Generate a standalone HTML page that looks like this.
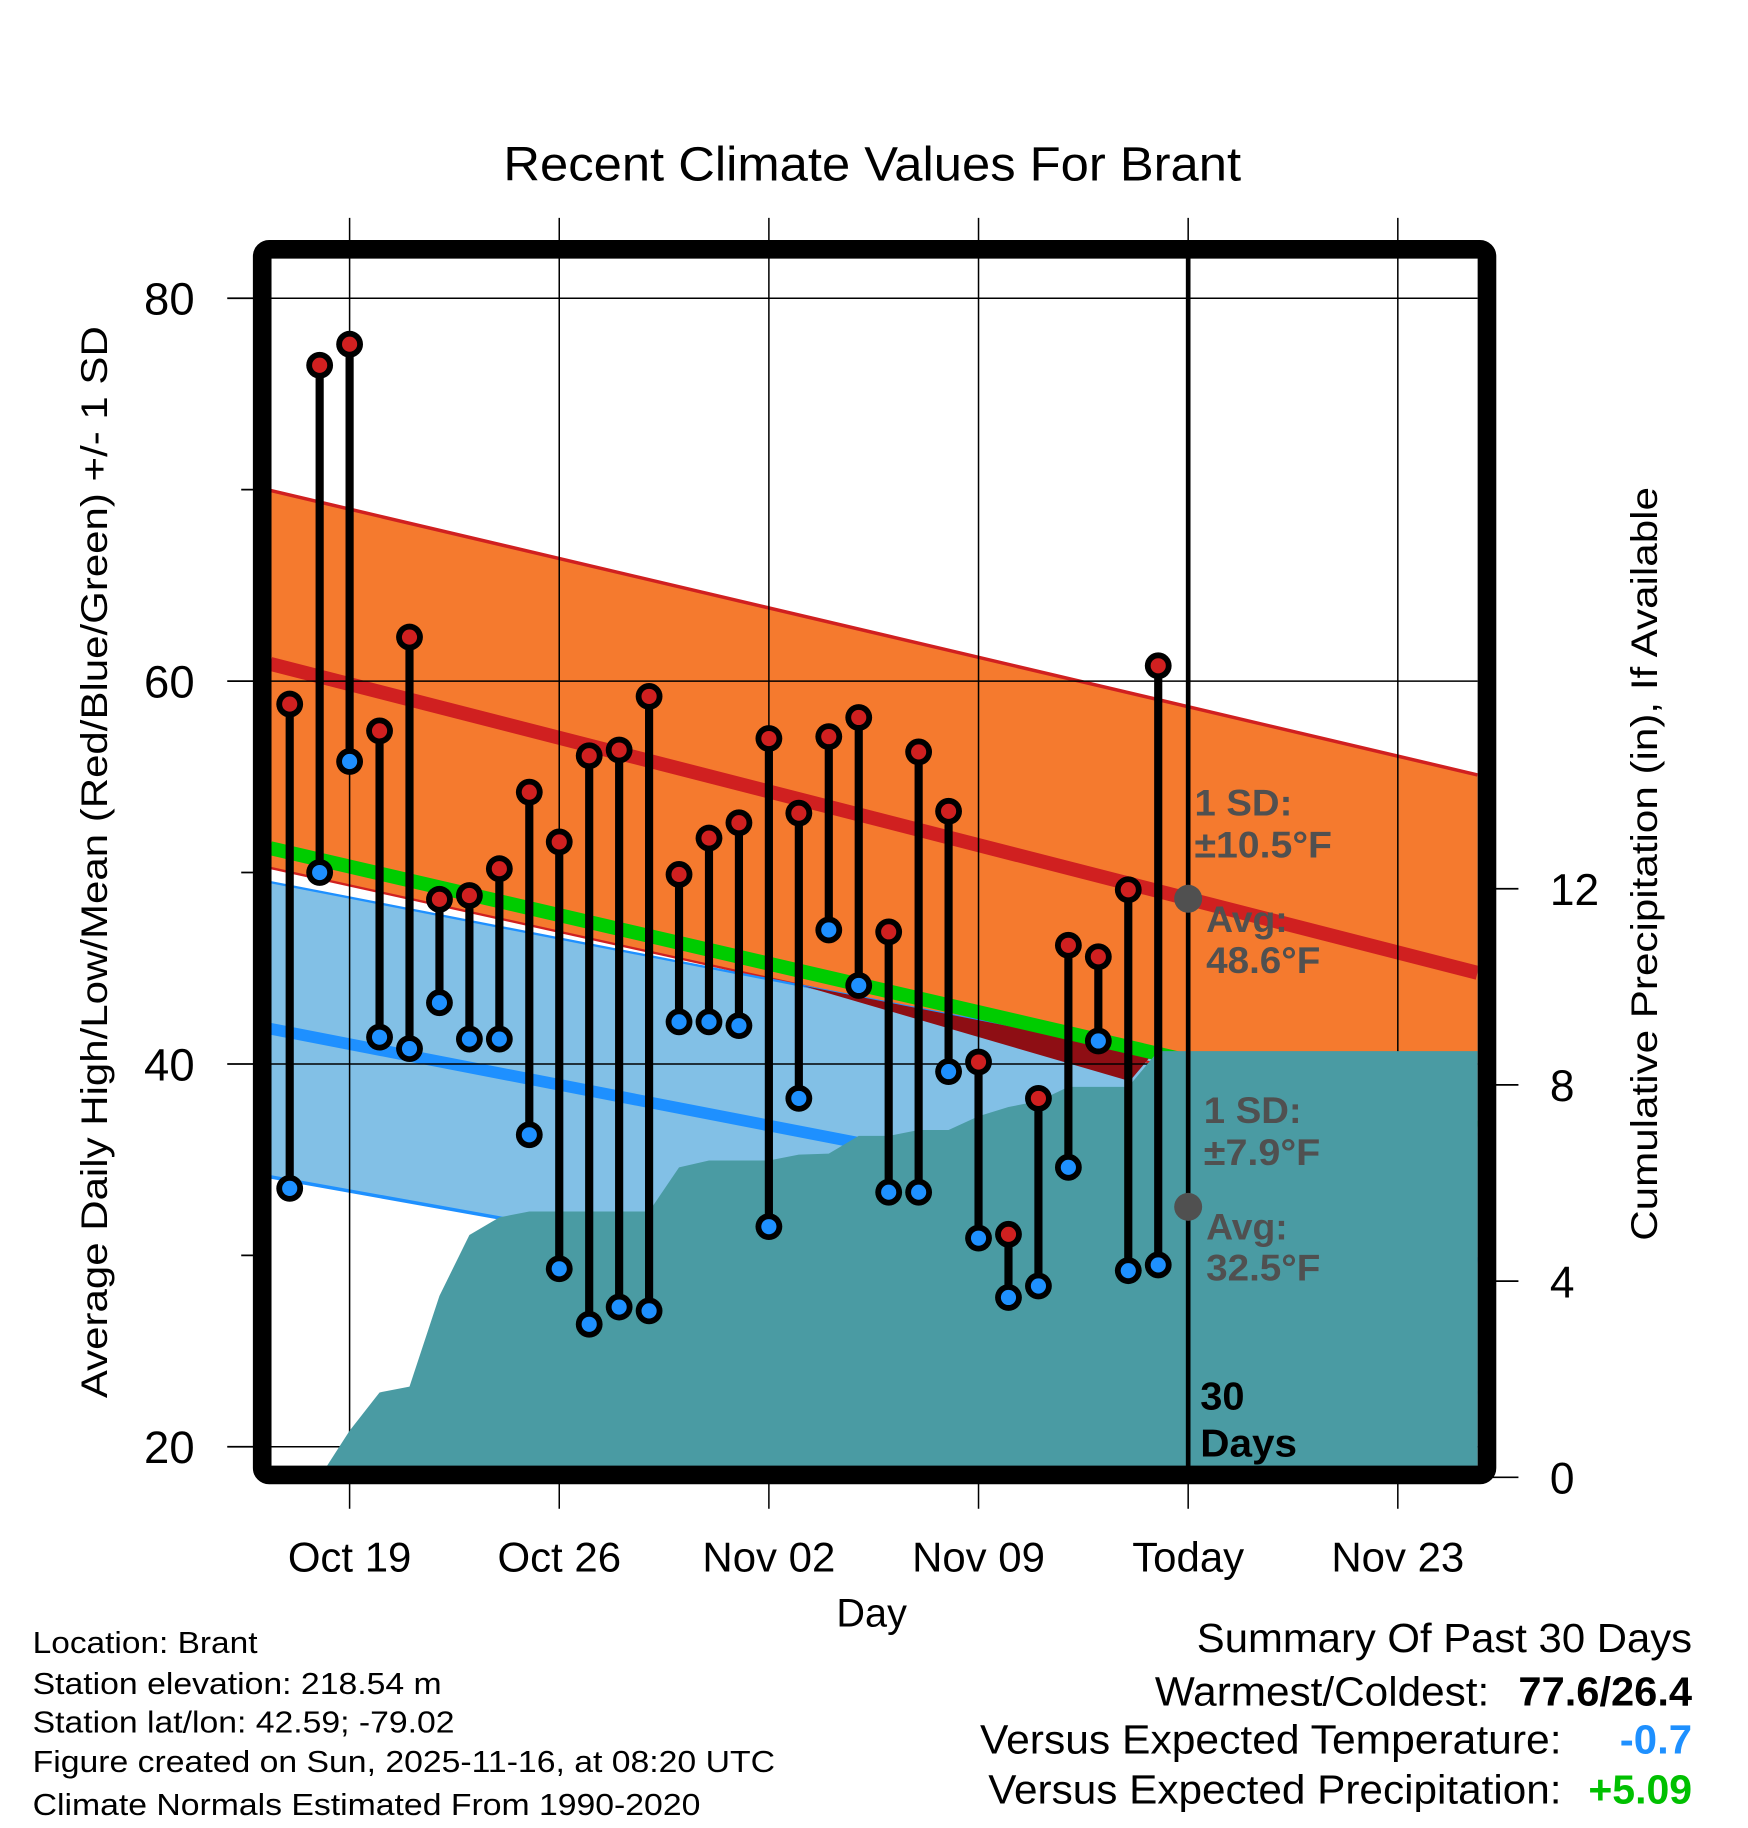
<!DOCTYPE html>
<html><head><meta charset="utf-8"><style>
html,body{margin:0;padding:0;background:#fff;}
svg{display:block;font-family:"Liberation Sans",Arial,sans-serif;}
</style></head><body>
<svg id="chart" width="1748" height="1828" viewBox="0 0 1500 1569" preserveAspectRatio="none" xmlns="http://www.w3.org/2000/svg">
<defs><clipPath id="plotclip"><rect x="232" y="221" width="1036" height="1038"/></clipPath></defs>
<rect width="1500" height="1569" fill="#fff"/>
<text x="432" y="155" font-size="41" textLength="633" lengthAdjust="spacingAndGlyphs">Recent Climate Values For Brant</text>
<g id="plot" clip-path="url(#plotclip)"></g>
<g id="axes"></g>
<rect x="225" y="214" width="1051" height="1052" fill="none" stroke="#000" stroke-width="16" rx="6"/>
<text transform="translate(92,1200) rotate(-90)" font-size="32" textLength="920" lengthAdjust="spacingAndGlyphs">Average Daily High/Low/Mean (Red/Blue/Green) +/- 1 SD</text>
<text transform="translate(1422,1065) rotate(-90)" font-size="32" textLength="647" lengthAdjust="spacingAndGlyphs">Cumulative Precipitation (in), If Available</text>
<text x="748" y="1396" font-size="34" text-anchor="middle">Day</text>
<g font-size="26">
<text x="28" y="1419" textLength="193" lengthAdjust="spacingAndGlyphs">Location: Brant</text>
<text x="28" y="1454" textLength="351" lengthAdjust="spacingAndGlyphs">Station elevation: 218.54 m</text>
<text x="28" y="1487" textLength="362" lengthAdjust="spacingAndGlyphs">Station lat/lon: 42.59; -79.02</text>
<text x="28" y="1521" textLength="637" lengthAdjust="spacingAndGlyphs">Figure created on Sun, 2025-11-16, at 08:20 UTC</text>
<text x="28" y="1558" textLength="573" lengthAdjust="spacingAndGlyphs">Climate Normals Estimated From 1990-2020</text>
</g>
<g font-size="35">
<text x="1027" y="1418" textLength="425" lengthAdjust="spacingAndGlyphs">Summary Of Past 30 Days</text>
<text x="991" y="1464" textLength="287" lengthAdjust="spacingAndGlyphs">Warmest/Coldest:</text>
<text x="1303" y="1464" font-weight="bold" textLength="149" lengthAdjust="spacingAndGlyphs">77.6/26.4</text>
<text x="841" y="1505" textLength="499" lengthAdjust="spacingAndGlyphs">Versus Expected Temperature:</text>
<text x="1390" y="1505" font-weight="bold" fill="#1E90FF" textLength="62" lengthAdjust="spacingAndGlyphs">-0.7</text>
<text x="848" y="1548" textLength="492" lengthAdjust="spacingAndGlyphs">Versus Expected Precipitation:</text>
<text x="1363" y="1548" font-weight="bold" fill="#00C000" textLength="89" lengthAdjust="spacingAndGlyphs">+5.09</text>
</g>
<script>
// ---- data ----
const dayOffsets = [-2,-1,0,1,2,3,4,5,6,7,8,9,10,11,12,13,14,15,16,17,18,19,20,21,22,23,24,25,26,27];
const highs = [58.8,76.5,77.6,57.4,62.3,48.6,48.8,50.2,54.2,51.6,56.1,56.4,59.2,49.9,51.8,52.6,57.0,53.1,57.1,58.1,46.9,56.3,53.2,40.1,31.1,38.2,46.2,45.6,49.1,60.8];
const lows = [33.5,50.0,55.8,41.4,40.8,43.2,41.3,41.3,36.3,29.3,26.4,27.3,27.1,42.2,42.2,42.0,31.5,38.2,47.0,44.1,33.3,33.3,39.6,30.9,27.8,28.4,34.6,41.2,29.2,29.5];
const precipDays = [-1,0,1,2,3,4,5,6,7,8,9,10,11,12,13,14,15,16,17,18,19,20,21,22,23,24,25,26,27];
const precipCum = [0,0.95,1.73,1.85,3.7,4.94,5.3,5.42,5.42,5.42,5.42,5.42,6.32,6.46,6.46,6.46,6.58,6.6,6.96,6.96,7.08,7.08,7.36,7.55,7.67,7.96,7.96,7.96,8.69];
const normalDays = [-2.646,37.66];
const highMean = [60.9,44.76];
const highTop = [69.96,55.1];
const highBot = [50.24,36.3];
const lowTop = [49.5,37.2];
const lowMean = [41.84,29.6];
const lowBot = [34.1,22.8];
const meanNormal = [51.27,36.67];
const overlapDays = [15.1,26.8,26.05];
const overlapTemps = [44.1,40.5,39.1];
const xTickDays = [0,7,14,21,28,35];
const xTickLabels = ["Oct 19","Oct 26","Nov 02","Nov 09","Today","Nov 23"];
const yTicks = [80,60,40,20];
const yMinor = [70,50,30];
const y2Ticks = [0,4,8,12];

// ---- scales ----
const X = d => 300 + 25.7*d;
const Y = v => 256 + (80-v)*16.43;
const Y2 = p => 1268 - 42.1*p;
const NS = "http://www.w3.org/2000/svg";
function mk(tag, parent, attrs){const e=document.createElementNS(NS,tag);for(const k in attrs)e.setAttribute(k,attrs[k]);parent.appendChild(e);return e;}
const plot=document.getElementById('plot'), axes=document.getElementById('axes');
const L=normalDays[0], R=normalDays[1];
function band(top,bot,fill,name){
  const e=mk('polygon',plot,{points:`${X(L)},${Y(top[0])} ${X(R)},${Y(top[1])} ${X(R)},${Y(bot[1])} ${X(L)},${Y(bot[0])}`,fill:fill});
  
  
}
function line(arr,color,w,name){
  const e=mk('line',plot,{x1:X(L),y1:Y(arr[0]),x2:X(R),y2:Y(arr[1]),stroke:color,'stroke-width':w});
  
  
}
band(highTop,highBot,'#F57A2E','high-sd-band');
band(lowTop,lowBot,'#82C0E6','low-sd-band');
line(highBot,'#D02020',2,'high-sd-bottom-edge');
line(highTop,'#D02020',3,'high-sd-top-edge');
line(lowTop,'#1E90FF',2,'low-sd-top-edge');
line(lowBot,'#1E90FF',3,'low-sd-bottom-edge');
(function(){
  const e=mk('polygon',plot,{points:overlapDays.map((d,i)=>`${X(d)},${Y(overlapTemps[i])}`).join(' '),fill:'#8E0E14'});
  
  
})();
line(meanNormal,'#00CC00',12,'mean-normal-line');
line(highMean,'#D02020',12,'high-normal-line');
line(lowMean,'#1E90FF',10,'low-normal-line');
xTickDays.forEach((d,i)=>{
  const e=mk('line',plot,{x1:X(d),y1:200,x2:X(d),y2:1290,stroke:'#000','stroke-width':i===4?0:1.3});
  
  
});
yTicks.forEach(v=>{
  const e=mk('line',plot,{x1:200,y1:Y(v),x2:1280,y2:Y(v),stroke:'#000','stroke-width':1.3});
  
  
});
(function(){
  let s=`${X(precipDays[0])},${Y2(0)} `;
  precipDays.forEach((d,i)=>{s+=`${X(d)},${Y2(precipCum[i])} `;});
  s+=`${X(R)},${Y2(precipCum[precipCum.length-1])} ${X(R)},${Y2(0)} ${X(R)},1270 ${X(precipDays[0])},1270`;
  const e=mk('polygon',plot,{points:s,fill:'#4A9BA3'});
  
  
})();
(function(){
  const e=mk('line',plot,{x1:X(28),y1:200,x2:X(28),y2:1290,stroke:'#000','stroke-width':4});
  
  
})();
const ann=[["1 SD:",1025,700,84],["\u00B110.5\u00B0F",1025,736,118],["Avg:",1035,800,70],["48.6\u00B0F",1035,835,98],["1 SD:",1033,964,84],["\u00B17.9\u00B0F",1033,1000,100],["Avg:",1035,1064,70],["32.5\u00B0F",1035,1099,98]];
(function(){
  const c1=mk('circle',plot,{cx:X(28),cy:Y(highMean[0]+(highMean[1]-highMean[0])*(28-L)/(R-L)),r:12,fill:'#505050'});
  
  
  const c2=mk('circle',plot,{cx:X(28),cy:Y(lowMean[0]+(lowMean[1]-lowMean[0])*(28-L)/(R-L)),r:12,fill:'#505050'});
  
  
})();
ann.forEach(a=>{
  const t=mk('text',plot,{x:a[1],y:a[2],'font-size':32,'font-weight':'bold',fill:'#505050',textLength:a[3],lengthAdjust:'spacingAndGlyphs'});
  t.textContent=a[0];
  
  
});
[["30",1210,38],["Days",1250,83]].forEach(a=>{
  const t=mk('text',plot,{x:1030,y:a[1],'font-size':33,'font-weight':'bold',fill:'#000',textLength:a[2],lengthAdjust:'spacingAndGlyphs'});
  t.textContent=a[0];
  
  
});
dayOffsets.forEach((d,i)=>{
  const g=mk('g',plot,{});
  
  
  mk('line',g,{x1:X(d),y1:Y(highs[i]),x2:X(d),y2:Y(lows[i]),stroke:'#000','stroke-width':7});
  [[highs[i],'#D02020','high-point'],[lows[i],'#1E90FF','low-point']].forEach(p=>{
    const c=mk('circle',g,{cx:X(d),cy:Y(p[0]),r:11.5,fill:'#000'});
    
    
    mk('circle',g,{cx:X(d),cy:Y(p[0]),r:6.5,fill:p[1]});
  });
});
yTicks.forEach(v=>{
  mk('line',axes,{x1:195,y1:Y(v),x2:225,y2:Y(v),stroke:'#000','stroke-width':1.5});
  const t=mk('text',axes,{x:167,y:Y(v)+14,'font-size':39,'text-anchor':'end'});t.textContent=v;
  
  
});
yMinor.forEach(v=>{mk('line',axes,{x1:207,y1:Y(v),x2:225,y2:Y(v),stroke:'#000','stroke-width':1.5});});
xTickDays.forEach((d,i)=>{
  mk('line',axes,{x1:X(d),y1:187,x2:X(d),y2:214,stroke:'#000','stroke-width':1.3});
  mk('line',axes,{x1:X(d),y1:1266,x2:X(d),y2:1295,stroke:'#000','stroke-width':1.3});
  const t=mk('text',axes,{x:X(d),y:1349,'font-size':36,'text-anchor':'middle'});t.textContent=xTickLabels[i];
  
  
});
y2Ticks.forEach(p=>{
  mk('line',axes,{x1:1276,y1:Y2(p),x2:1303,y2:Y2(p),stroke:'#000','stroke-width':1.5});
  const t=mk('text',axes,{x:1330,y:Y2(p)+14,'font-size':38});t.textContent=p;
  
  
});
</script>
</svg>
</body></html>
